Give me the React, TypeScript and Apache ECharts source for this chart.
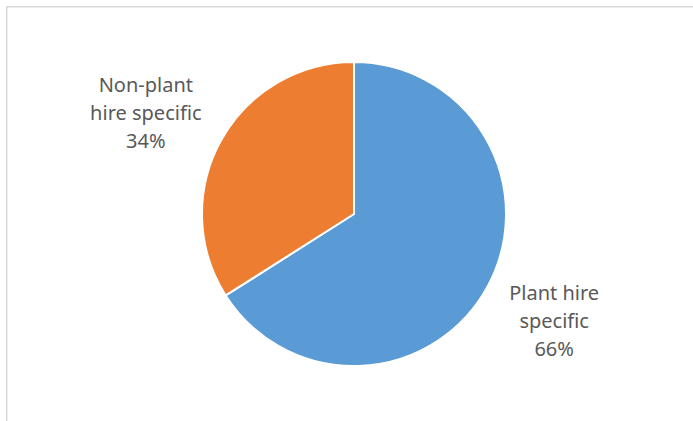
import React, { useEffect, useRef } from "react";
import * as echarts from "echarts";

const categories = ["Plant hire specific", "Non-plant hire specific"];
const labelNames = ["Plant hire\nspecific", "Non-plant\nhire specific"];
const values = [66, 34];
const colors = ["#5B9BD5", "#ED7D31"];

const CX = 354;
const CY = 214;
const R = 152;

export default function App() {
  const ref = useRef<HTMLDivElement>(null);
  useEffect(() => {
    document.body.style.margin = "0";
    if (!ref.current) return;
    const chart = echarts.init(ref.current, undefined, { renderer: "svg" });
    const total = values.reduce((a, b) => a + b, 0);
    const mids: number[] = [];
    let acc = 0;
    values.forEach((v) => {
      const midFrac = (acc + v / 2) / total;
      mids.push(Math.PI / 2 - midFrac * 2 * Math.PI);
      acc += v;
    });
    chart.setOption({
      animation: false,
      backgroundColor: "#ffffff",
      graphic: [
        {
          type: "rect",
          shape: { x: 6.75, y: 6.75, width: 900, height: 600 },
          style: { fill: "none", stroke: "#d9d9d9", lineWidth: 1.5 },
          silent: true,
        },
      ],
      series: [
        {
          type: "pie",
          center: [CX, CY],
          radius: [0, R],
          startAngle: 90,
          clockwise: true,
          data: categories.map((c, i) => ({
            name: c,
            value: values[i],
            itemStyle: { color: colors[i] },
          })),
          itemStyle: { borderColor: "#ffffff", borderWidth: 2 },
          label: {
            show: true,
            position: "outside",
            formatter: (p: any) => `${labelNames[p.dataIndex]}\n${p.percent.toFixed(0)}%`,
            color: "#595959",
            fontFamily: "Noto Sans",
            fontSize: 20,
            lineHeight: 28,
            align: "center",
          },
          labelLine: { show: false },
          labelLayout: (p: any) => {
            const a = mids[p.dataIndex];
            return {
              x: CX - 4 + Math.cos(a) * 233,
              y: CY + 2.5 - Math.sin(a) * 215,
              align: "center",
              verticalAlign: "middle",
            };
          },
          emphasis: { disabled: true },
        },
      ],
    });
    return () => chart.dispose();
  }, []);
  return <div ref={ref} style={{ width: 693, height: 421 }} />;
}
